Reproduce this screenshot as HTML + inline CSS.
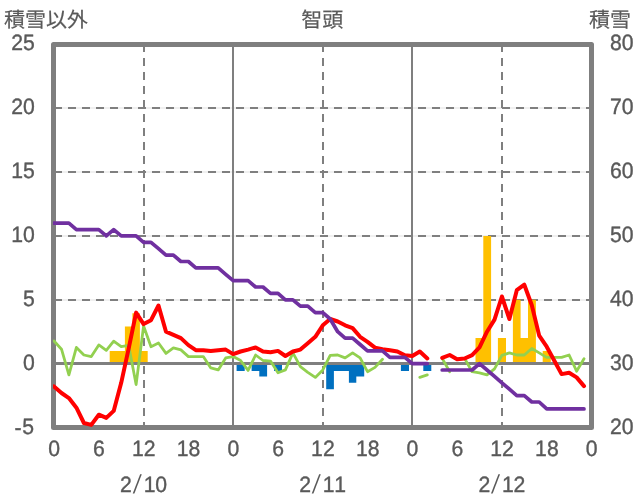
<!DOCTYPE html>
<html lang="ja"><head><meta charset="utf-8"><title>智頭</title>
<style>html,body{margin:0;padding:0;background:#fff}svg{display:block}text{font-family:"Liberation Sans","Noto Sans CJK JP",sans-serif;font-size:21.2px;text-rendering:geometricPrecision;fill:#595959;stroke:#595959;stroke-width:0.35px}.s{font-family:"Noto Sans CJK JP","Liberation Sans",sans-serif;stroke:none}.j{font-family:"Noto Sans CJK JP","Liberation Sans",sans-serif;font-size:21px;stroke-width:0.2px}</style></head><body>
<svg width="636" height="501" viewBox="0 0 636 501">
<defs><clipPath id="pa"><rect x="52.9" y="44.0" width="539.1" height="384.0"/></clipPath></defs>
<rect width="636" height="501" fill="#fff"/>
<line x1="53.5" y1="108.0" x2="591.5" y2="108.0" stroke="#d9d9d9" stroke-width="0.8"/>
<line x1="54.0" y1="108.0" x2="591.5" y2="108.0" stroke="#7f7f7f" stroke-width="2" stroke-dasharray="8 6"/>
<line x1="53.5" y1="172.0" x2="591.5" y2="172.0" stroke="#d9d9d9" stroke-width="0.8"/>
<line x1="54.0" y1="172.0" x2="591.5" y2="172.0" stroke="#7f7f7f" stroke-width="2" stroke-dasharray="8 6"/>
<line x1="53.5" y1="236.0" x2="591.5" y2="236.0" stroke="#d9d9d9" stroke-width="0.8"/>
<line x1="54.0" y1="236.0" x2="591.5" y2="236.0" stroke="#7f7f7f" stroke-width="2" stroke-dasharray="8 6"/>
<line x1="53.5" y1="300.0" x2="591.5" y2="300.0" stroke="#d9d9d9" stroke-width="0.8"/>
<line x1="54.0" y1="300.0" x2="591.5" y2="300.0" stroke="#7f7f7f" stroke-width="2" stroke-dasharray="8 6"/>
<line x1="144.0" y1="44.0" x2="144.0" y2="427.5" stroke="#7f7f7f" stroke-width="2" stroke-dasharray="8 6"/>
<line x1="323.0" y1="44.0" x2="323.0" y2="427.5" stroke="#7f7f7f" stroke-width="2" stroke-dasharray="8 6"/>
<line x1="502.0" y1="44.0" x2="502.0" y2="427.5" stroke="#7f7f7f" stroke-width="2" stroke-dasharray="8 6"/>
<line x1="233.0" y1="44.5" x2="233.0" y2="427.5" stroke="#7f7f7f" stroke-width="2"/>
<line x1="412.0" y1="44.5" x2="412.0" y2="427.5" stroke="#7f7f7f" stroke-width="2"/>
<path d="M109.7 363.5 L109.7 350.9 L117.5 350.9 L117.5 350.9 L124.9 350.9 L124.9 326.4 L132.4 326.4 L132.4 313.3 L139.9 313.3 L139.9 350.9 L147.7 350.9 L147.7 363.5 Z M475.5 363.5 L475.5 338.1 L483.3 338.1 L483.3 235.9 L491.1 235.9 L491.1 363.5 Z M497.9 363.5 L497.9 338.1 L506.0 338.1 L506.0 363.5 Z M512.9 363.5 L512.9 299.8 L520.6 299.8 L520.6 338.1 L528.0 338.1 L528.0 299.8 L535.9 299.8 L535.9 363.5 Z M542.7 363.5 L542.7 350.9 L550.8 350.9 L550.8 363.5 Z" fill="#ffc000"/>
<path d="M236.6 363.5 L236.6 371.1 L244.7 371.1 L244.7 363.5 Z M251.6 363.5 L251.6 371.1 L259.3 371.1 L259.3 376.4 L267.1 376.4 L267.1 363.5 Z M274.0 363.5 L274.0 371.1 L282.0 371.1 L282.0 363.5 Z M326.2 363.5 L326.2 389.2 L333.9 389.2 L333.9 371.1 L341.4 371.1 L341.4 371.1 L348.9 371.1 L348.9 382.8 L356.3 382.8 L356.3 376.4 L364.2 376.4 L364.2 363.5 Z M400.9 363.5 L400.9 371.1 L409.0 371.1 L409.0 363.5 Z M423.3 363.5 L423.3 371.1 L431.3 371.1 L431.3 363.5 Z" fill="#0070c0"/>
<line x1="53.5" y1="363.5" x2="591.5" y2="363.5" stroke="#7f7f7f" stroke-width="3"/>
<rect x="53.5" y="44.5" width="538.0" height="383.0" fill="none" stroke="#7f7f7f" stroke-width="5" stroke-linejoin="round"/>
<g clip-path="url(#pa)" fill="none" stroke-linejoin="round" stroke-linecap="round">
<path d="M54.0 340.9 L61.5 349.2 L68.9 374.9 L76.4 347.4 L83.9 355.0 L91.3 356.6 L98.8 344.9 L106.3 350.4 L113.7 341.2 L121.2 346.7 L128.7 345.4 L136.1 384.6 L143.6 326.0 L151.0 346.7 L158.5 343.0 L166.0 353.4 L173.4 347.9 L180.9 349.9 L188.4 356.6 L195.8 356.6 L203.3 356.6 L210.8 367.9 L218.2 369.9 L225.7 357.9 L233.2 356.6 L240.6 360.5 L248.1 370.4 L255.6 355.0 L263.0 360.5 L270.5 361.1 L278.0 372.8 L285.4 369.9 L292.9 352.9 L300.4 366.6 L307.8 372.3 L315.3 377.4 L322.8 369.9 L330.2 355.3 L337.7 355.0 L345.1 357.9 L352.6 352.9 L360.1 357.9 L367.5 371.7 L375.0 367.4 L382.5 359.2 M419.8 377.4 L427.3 374.9 M442.2 358.4 L449.7 371.7 M464.6 358.4 L472.1 371.7 L479.5 372.8 L487.0 374.9 L494.5 368.8 L501.9 355.3 L509.4 352.9 L516.8 355.0 L524.3 355.0 L531.8 348.5 L539.2 352.9 L546.7 357.4 L554.2 357.4 L561.6 357.4 L569.1 355.0 L576.6 371.2 L584.0 358.7" stroke="#92d050" stroke-width="2.8"/>
<path d="M54.0 386.4 L61.5 393.0 L68.9 398.1 L76.4 407.7 L83.9 423.0 L91.3 424.9 L98.8 414.7 L106.3 417.9 L113.7 410.9 L121.2 382.8 L128.7 348.3 L136.1 312.6 L143.6 324.1 L151.0 320.2 L158.5 305.5 L166.0 331.7 L173.4 334.9 L180.9 338.1 L188.4 345.1 L195.8 350.2 L203.3 350.2 L210.8 350.9 L218.2 350.2 L225.7 349.6 L233.2 354.1 L240.6 351.5 L248.1 349.6 L255.6 347.4 L263.0 351.5 L270.5 352.2 L278.0 350.9 L285.4 356.0 L292.9 351.5 L300.4 349.6 L307.8 343.2 L315.3 336.8 L322.8 325.3 L330.2 319.0 L337.7 321.5 L345.1 325.3 L352.6 328.1 L360.1 336.8 L367.5 341.9 L375.0 347.7 L382.5 349.2 L389.9 350.2 L397.4 351.5 L404.9 355.3 L412.3 356.0 L419.8 351.5 L427.3 358.5 M442.2 357.9 L449.7 355.0 L457.1 359.2 L464.6 358.5 L472.1 355.1 L479.5 347.4 L487.0 331.7 L494.5 319.6 L501.9 296.5 L509.4 319.0 L516.8 290.2 L524.3 284.7 L531.8 305.2 L539.2 335.6 L546.7 346.7 L554.2 360.5 L561.6 374.1 L569.1 372.8 L576.6 377.4 L584.0 386.1" stroke="#ff0000" stroke-width="4"/>
<path d="M54.0 223.2 L61.5 223.2 L68.9 223.2 L76.4 229.6 L83.9 229.6 L91.3 229.6 L98.8 229.6 L106.3 235.9 L113.7 229.6 L121.2 235.9 L128.7 235.9 L136.1 235.9 L143.6 242.3 L151.0 242.3 L158.5 248.7 L166.0 255.1 L173.4 255.1 L180.9 261.5 L188.4 261.5 L195.8 267.9 L203.3 267.9 L210.8 267.9 L218.2 267.9 L225.7 274.3 L233.2 280.6 L240.6 280.6 L248.1 280.6 L255.6 287.0 L263.0 287.0 L270.5 293.4 L278.0 293.4 L285.4 299.8 L292.9 299.8 L300.4 306.2 L307.8 306.2 L315.3 312.6 L322.8 312.6 L330.2 319.0 L337.7 331.7 L345.1 338.1 L352.6 338.1 L360.1 344.5 L367.5 350.9 L375.0 350.9 L382.5 350.9 L389.9 357.3 L397.4 357.3 L404.9 357.3 L412.3 363.6 L419.8 363.6 L427.3 363.6 M442.2 370.0 L449.7 370.0 L457.1 370.0 L464.6 370.0 L472.1 370.0 L479.5 363.6 L487.0 370.0 L494.5 376.4 L501.9 382.8 L509.4 389.2 L516.8 395.6 L524.3 395.6 L531.8 402.0 L539.2 402.0 L546.7 408.9 L554.2 408.9 L561.6 408.9 L569.1 408.9 L576.6 408.9 L584.0 408.9" stroke="#7030a0" stroke-width="3.7"/>
</g>
<text transform="translate(4.0 27.3) scale(1.000 0.980)" class="j">積雪以外</text>
<text transform="translate(322.2 27.3) scale(1.000 0.980)" class="j" text-anchor="middle">智頭</text>
<text transform="translate(631.0 27.3) scale(1.000 0.980)" class="j" text-anchor="end">積雪</text>
<text transform="translate(34.9 50.2) scale(1.000 1.045)" text-anchor="end">25</text>
<text transform="translate(34.9 114.2) scale(1.000 1.045)" text-anchor="end">20</text>
<text transform="translate(34.9 178.2) scale(1.000 1.045)" text-anchor="end">15</text>
<text transform="translate(34.9 242.2) scale(1.000 1.045)" text-anchor="end">10</text>
<text transform="translate(34.9 306.2) scale(1.000 1.045)" text-anchor="end">5</text>
<text transform="translate(34.9 370.2) scale(1.000 1.045)" text-anchor="end">0</text>
<text transform="translate(34.9 434.2) scale(1.000 1.045)" text-anchor="end"><tspan dx="-0.8" dy="0.9">-</tspan><tspan dx="0.8" dy="-0.9">5</tspan></text>
<text transform="translate(610.0 50.2) scale(1.000 1.045)">80</text>
<text transform="translate(610.0 114.2) scale(1.000 1.045)">70</text>
<text transform="translate(610.0 178.2) scale(1.000 1.045)">60</text>
<text transform="translate(610.0 242.2) scale(1.000 1.045)">50</text>
<text transform="translate(610.0 306.2) scale(1.000 1.045)">40</text>
<text transform="translate(610.0 370.2) scale(1.000 1.045)">30</text>
<text transform="translate(610.0 434.2) scale(1.000 1.045)">20</text>
<text transform="translate(54.2 456.0) scale(1.000 1.045)" text-anchor="middle">0</text>
<text transform="translate(99.0 456.0) scale(1.000 1.045)" text-anchor="middle">6</text>
<text transform="translate(143.8 456.0) scale(1.000 1.045)" text-anchor="middle">12</text>
<text transform="translate(188.6 456.0) scale(1.000 1.045)" text-anchor="middle">18</text>
<text transform="translate(233.4 456.0) scale(1.000 1.045)" text-anchor="middle">0</text>
<text transform="translate(278.2 456.0) scale(1.000 1.045)" text-anchor="middle">6</text>
<text transform="translate(322.9 456.0) scale(1.000 1.045)" text-anchor="middle">12</text>
<text transform="translate(367.7 456.0) scale(1.000 1.045)" text-anchor="middle">18</text>
<text transform="translate(412.5 456.0) scale(1.000 1.045)" text-anchor="middle">0</text>
<text transform="translate(457.3 456.0) scale(1.000 1.045)" text-anchor="middle">6</text>
<text transform="translate(502.1 456.0) scale(1.000 1.045)" text-anchor="middle">12</text>
<text transform="translate(546.9 456.0) scale(1.000 1.045)" text-anchor="middle">18</text>
<text transform="translate(591.7 456.0) scale(1.000 1.045)" text-anchor="middle">0</text>
<g><text transform="translate(120.1 492.3) scale(1.000 1.045)">2</text><text class="s" transform="translate(132.4 490.0) scale(1.16 0.94)" font-size="21.6">/</text><text transform="translate(143.3 492.3) scale(1.000 1.045)"><tspan x="0.4">1</tspan><tspan x="11.9">0</tspan></text></g>
<g><text transform="translate(299.2 492.3) scale(1.000 1.045)">2</text><text class="s" transform="translate(311.6 490.0) scale(1.16 0.94)" font-size="21.6">/</text><text transform="translate(322.4 492.3) scale(1.000 1.045)"><tspan x="0.4">1</tspan><tspan x="11.9">1</tspan></text></g>
<g><text transform="translate(478.4 492.3) scale(1.000 1.045)">2</text><text class="s" transform="translate(490.7 490.0) scale(1.16 0.94)" font-size="21.6">/</text><text transform="translate(501.6 492.3) scale(1.000 1.045)"><tspan x="0.4">1</tspan><tspan x="11.9">2</tspan></text></g>
</svg></body></html>
